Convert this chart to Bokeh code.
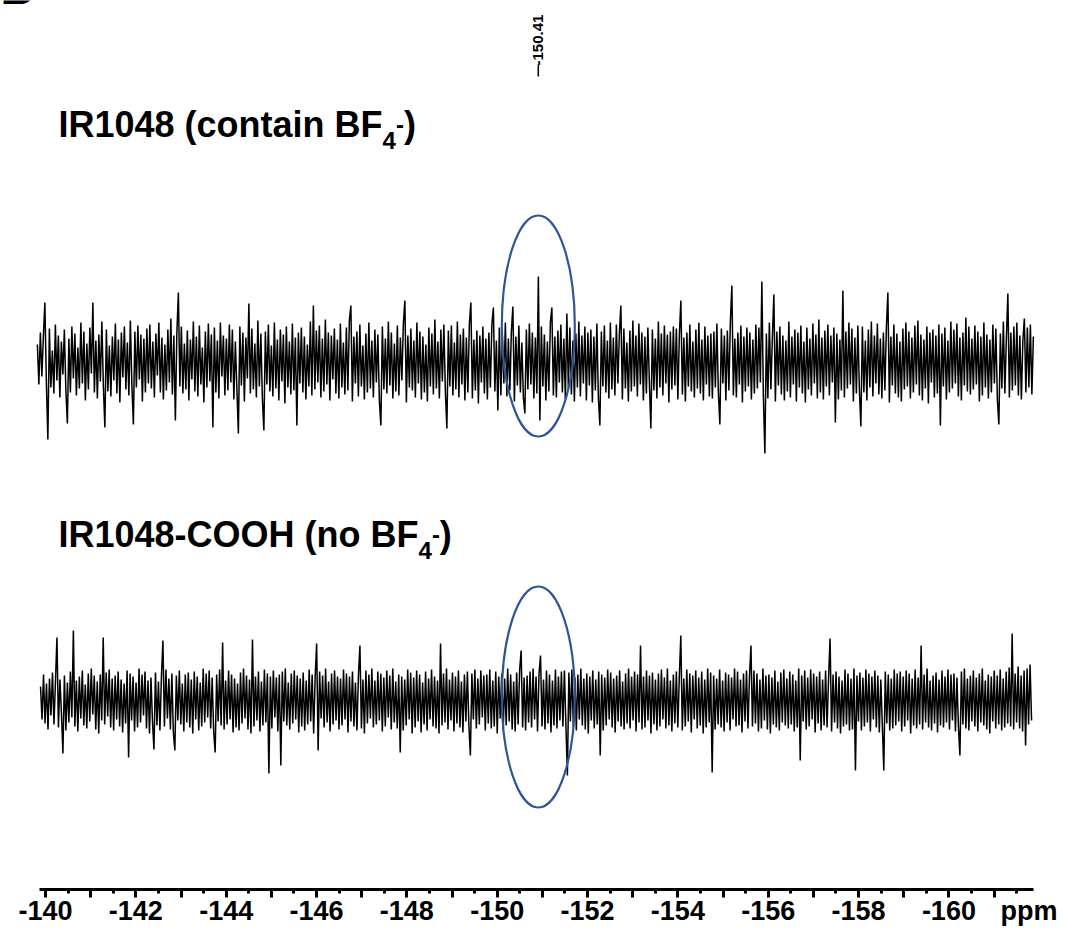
import numpy as np
from bokeh.plotting import figure
from bokeh.models import Range1d, FixedTicker, Title
from bokeh.core.properties import value
from bokeh.embed import file_html
from bokeh.resources import INLINE

# ---------------- data ----------------
tick_values = list(range(-140, -162, -1))            # major ticks every 1 ppm
minor_values = [v - 0.5 for v in tick_values]         # minor ticks at half ppm
tick_labels = ["-140", "-142", "-144", "-146", "-148", "-150",
               "-152", "-154", "-156", "-158", "-160"]
axis_label = "ppm"

peak_ppm = -150.91
peak_label = "-150.41"
panel_letter = "B"

title_top = ["IR1048 (contain BF", "4", "-", ")"]
title_bottom = ["IR1048-COOH (no BF", "4", "-", ")"]

top_ppm_window = (-139.82, -161.87)
bottom_ppm_window = (-139.89, -161.83)

top_intensity = [
    18, -22, 30, -14, 26, 60, -20, -77, 34, -25, 12, -31, 38, -18, 27, -35, 21, -12, 33, -28, -61, 24, -30, 36, -16,
    29, -33, 15, -26, 40, -21, 31, -38, 19, -27, 35, -11, 60, -30, 22, -36, 28, -19, 41, -24, -65, 33, -29, 17, -34,
    26, -18, 39, -31, 23, -40, 30, -15, 36, -27, 20, -33, 42, -22, -62, 31, -25, 37, -17, 28, -39, 24, -30, 34, -21,
    38, -26, 21, -35, 29, -13, 40, -30, 25, -37, 18, -28, 33, -20, 44, -32, 27, -58, 30, 70, -24, 36, -31, 19, -27,
    32, -38, 23, -17, 41, -29, 26, -34, 37, -22, 15, -40, 31, -25, 39, -19, 28, -65, 35, -30, 22, -36, 40, -14, 27,
    -33, 24, -28, 38, -20, 33, -37, 21, -26, -71, 36, -23, 30, -39, 25, -16, 59, -31, 34, -27, 19, -35, 42, -24, 29,
    -36, -68, 31, -22, 38, -29, 17, -34, 40, -26, 23, -38, 33, -19, 28, -41, 36, -25, 21, -32, 39, -28, 25, -63, 30,
    -21, 35, -30, 26, -37, 18, -24, 41, -33, 57, -27, 32, -20, 37, -35, 24, -29, 43, -22, 30, -38, 27, -17, 34, -31,
    23, -36, 39, -25, 20, -32, 35, -28, 42, 57, -39, 26, -21, 31, -34, 38, -24, 17, -37, 29, -30, 40, -26, 22, -35,
    33, -20, 28, -38, -63, 36, -27, 24, -31, 41, -23, 30, -36, 19, -29, 37, -33, 25, -18, 39, 62, -40, 27, -25, 34,
    -28, 22, -35, 40, -21, 31, -37, 26, -30, 18, -39, 35, -24, 29, -32, 43, -26, 21, -36, 33, -19, 38, -29, -66, 32,
    -24, 37, -33, 20, -27, 41, -35, 28, -22, 34, -38, 25, -30, 39, 60, -36, 23, -28, 32, -41, 27, -20, 36, -31, 24,
    -37, 30, -25, 38, 55, -29, 22, -48, 35, -33, 27, -21, 40, -34, 24, -28, 31, 56, -39, 26, -23, 37, -30, 20, -35,
    -51, 33, -27, 39, -22, 30, -36, 25, -31, 86, -58, 36, -24, 28, -38, 21, -29, 40, 55, -33, 26, -35, 32, -20, 38,
    -30, 24, -37, 49, -26, 35, -32, 22, -39, 29, -25, 41, -34, 27, -21, 36, -38, 30, -23, 33, -40, 26, -28, 39, -35,
    -63, 31, -24, 37, -30, 22, -36, 40, -27, 25, -33, 38, -21, 29, 57, -37, 34, -26, 20, -39, 32, -29, 42, -24, 27,
    -34, 39, -22, 30, -38, 26, -31, 35, -20, -66, 33, -28, 24, -36, 41, -25, 29, -33, 37, -21, 28, -40, 31, -27, 36,
    -23, 34, -37, 28, 62, -32, 25, -39, 30, -24, 38, -29, 21, -35, 33, -26, 40, -31, 23, -38, 36, -22, 27, -34, 29,
    -36, 31, -25, 39, -30, -62, 34, -21, 27, -38, 32, -28, 41, 77, -33, 24, -35, 30, -22, 37, -40, 26, -29, 35, -24,
    30, -37, 23, -31, 38, -26, 35, -20, 81, -34, -91, 29, -36, 40, -27, 25, 68, -39, 31, -23, 36, -32, 27, -38, 22,
    -29, 41, -35, 26, -22, 33, -39, 30, -25, 37, -31, 21, -40, 35, -27, 24, -33, 39, -21, 28, -36, 43, -30, 25, -37,
    32, -24, 38, -33, 27, -20, 35, -60, 29, -37, 23, -28, 72, -35, 31, -26, 40, -22, 34, -39, 25, -31, 37, -27, -64,
    36, -30, 22, -38, 33, -25, 41, -34, 27, -21, 39, -32, 24, -36, 30, -28, 35, 70, -40, 26, -23, 38, -31, 29, -35,
    21, -39, 34, -27, 40, -24, 31, -36, 25, -30, 37, -22, 42, -33, 28, -38, 23, -26, 36, -41, 30, -20, 33, -35, 27,
    -31, 38, -63, 29, -24, 35, -37, 22, -30, 41, -26, 33, -21, 39, -34, 25, -38, 30, -23, 45, -29, 36, -32, 24, -27,
    37, -22, 31, -39, 26, -33, 40, -25, 28, -36, 23, -30, 38, -21, 34, -37, -62, 29, -26, 41, -31, 24, 69, -35, 30,
    -28, 36, -23, 40, -33, 27, -37, 22, 44, -30, 35, -25, 38, -32, 26,
]

bottom_intensity = [
    14, -19, 26, -23, 17, -29, 22, -15, 28, -24, 19, 63, -27, 21, -12, -53, 25, -30, 18, -22, 29, -17, 70, -26, 20,
    -31, 24, -18, 30, -25, 16, -28, 27, -21, 32, -14, 25, -29, 19, -33, 26, -20, 63, -24, 28, -16, 31, -27, 22, -30,
    25, -19, 29, -26, 21, -32, 17, -23, 30, -57, 27, -20, 24, -31, 18, -27, 32, -22, 26, -15, 29, -28, 20, -33, 23,
    -21, -49, 28, -25, 19, -30, 24, 60, -26, 31, -18, 22, -29, 27, -32, -50, 25, -20, 30, -24, 17, -31, 26, -22, 28,
    -27, 21, -33, 29, -19, 24, -30, 18, -26, 32, -22, 27, -17, 30, -28, 23, -31, -52, 26, -21, 31, -25, 58, -29, 20,
    -24, 30, -19, 26, -32, 22, -27, 17, -30, 28, -23, 32, -18, 25, -29, 21, -33, 61, -26, 24, -20, 29, -31, 19, -25,
    31, -22, 27, -73, 24, -28, 30, -17, 23, -31, 26, -65, 29, -21, 32, -25, 18, -29, 27, -23, 30, -19, 25, -32, 22,
    -26, 28, -30, 20, -24, 31, -21, 26, -33, 23, 57, -50, 29, -18, 25, -27, 32, -22, 19, -31, 27, -24, 30, -20, 24,
    -29, 22, -25, 31, -19, 27, -32, 24, -21, 29, -26, 18, -30, 25, 55, -28, 21, -33, 30, -23, 26, -18, 32, -27, 20,
    -24, 29, -20, 27, -31, 23, -26, 30, -17, 25, -29, 32, -22, 19, -28, 26, -52, 24, -30, 21, -25, 31, -19, 28, -33,
    23, -27, 30, -21, 26, -32, 18, -24, 29, -30, 22, -19, 31, -26, 24, -28, 20, -33, 57, -25, 27, -22, 32, -29, 21,
    -20, 28, -31, 24, -23, 30, -27, 19, -32, 26, -21, 29, -25, -55, 27, -19, 31, -28, 22, -24, 30, -17, 25, -30, 26,
    -23, 31, -28, 20, -26, 29, -33, 24, -18, 27, -30, 22, -25, 32, -21, 26, -29, 19, -31, 28, -24, 30, 50, -27, 23,
    -30, 25, -22, 29, -27, 32, -19, 24, -31, 27, 45, -26, 21, -29, 30, -23, 26, -32, 20, -25, 31, -28, 24, -20, 29,
    -26, 30, -24, -75, 28, -21, 31, -27, 23, -30, 26, -19, 32, -25, 22, -29, 27, -33, 24, -20, 30, -28, 21, -24, 29,
    -55, 26, -30, 23, -25, 31, -19, 28, -27, 22, -32, 25, -21, 30, -26, 19, -29, 27, -23, 32, -28, 24, -20, 29, -31,
    26, -22, 55, -29, 24, -27, 30, -20, 25, -33, 28, -24, 21, -30, 27, -26, 31, -19, 23, -28, 32, -25, 20, -31, 26,
    -23, 29, -27, 24, 65, -30, 22, -26, 31, -21, 27, -32, 25, -19, 30, -28, 23, -25, 29, -33, 21, -27, 32, -22, 28,
    -72, 25, -29, 22, -24, 31, -27, 20, -31, 28, -22, 26, -30, 23, -19, 32, -26, 29, -25, 21, -32, 27, -21, 30, -28,
    24, 55, -26, 30, -23, 27, -31, 21, -28, 32, -20, 25, -29, 26, -33, 23, -24, 30, -27, 19, -30, 28, -22, 31, -25,
    22, -28, 29, -24, 26, -31, 20, -27, 32, -60, 25, -21, 30, -29, 23, -26, 31, -19, 27, -32, 24, -23, 29, -30, 21,
    -25, 30, -27, 23, 62, -31, 26, -22, 29, -28, 24, -33, 20, -26, 31, -24, 27, -30, 22, -29, 32, -70, 25, -21, 28,
    -30, 23, -26, 31, -22, 27, -31, 24, -19, 30, -27, 25, -32, 21, -24, -70, 29, -23, 26, -30, 22, -28, 31, -25, 27,
    -21, 29, -31, 24, -26, 30, -20, 27, -33, 22, -25, 31, -28, 23, -24, 55, -29, 26, -22, 32, -27, 20, -30, 25, -23,
    28, -32, 21, -25, 30, -27, 24, -22, 31, -29, 26, -20, 27, -31, 23, -26, -55, 29, -24, 32, -28, 22, -30, 25, -21,
    30, -26, 23, -31, 27, -22, 32, -25, 20, -29, 26, -33, 24, -21, 30, -28, 25, -24, 31, -30, 22, -27, 29, -23, 33,
    -26, 67, -29, 27, -22, 34, -28, 25, -31, 30, -45, 32, -24, 36, -20,
]

# ---------------- layout ----------------
W, H = 1065, 931
BOTTOM = 42
PXPP = 45.17            # pixels per ppm
X0_PAGE = 45.0          # screen x of -140 ppm
FONT = "Liberation Sans"
MID = 0.3465            # text anchor sits this many em above the drawn baseline


def px2ppm(px):
    return -140.0 - (px - X0_PAGE) / PXPP


def py(page_y):          # vertical layout helper (axis line at y = 889 px)
    return 889.0 - page_y


p = figure(width=W, height=H,
           x_range=Range1d(px2ppm(0), px2ppm(W)),
           y_range=Range1d(0, py(0)),
           output_backend="svg", toolbar_location=None,
           y_axis_location=None,
           min_border_left=0, min_border_right=0, min_border_top=0,
           min_border_bottom=BOTTOM, outline_line_color=None,
           background_fill_color="white", border_fill_color="white")
p.grid.visible = False

ax = p.xaxis[0]
ax.ticker = FixedTicker(ticks=tick_values, minor_ticks=minor_values)
overrides = {v: "" for v in tick_values}
for lab in tick_labels:
    overrides[int(lab)] = lab
ax.major_label_overrides = overrides
ax.bounds = (px2ppm(1033), px2ppm(39))
ax.axis_line_color = "black"
ax.axis_line_width = 3
ax.major_tick_line_color = "black"
ax.major_tick_line_width = 3
ax.major_tick_out = 8
ax.major_tick_in = 0
ax.minor_tick_line_color = "black"
ax.minor_tick_line_width = 3
ax.minor_tick_out = 4
ax.minor_tick_in = 0
ax.major_label_text_font = FONT
ax.major_label_text_font_style = "bold"
ax.major_label_text_font_size = "27px"
ax.major_label_text_color = "black"
ax.major_label_standoff = 3

# unit label at the right end of the tick-label row
unit = Title(text=axis_label, align="right", offset=8, standoff=-54,
             vertical_align="top", text_font=FONT, text_font_style="bold",
             text_font_size="27px", text_color="black")
p.add_layout(unit, "below")

# spectra
top_x = np.linspace(top_ppm_window[0], top_ppm_window[1], len(top_intensity))
bot_x = np.linspace(bottom_ppm_window[0], bottom_ppm_window[1], len(bottom_intensity))
TOP_OFF = py(362)
BOT_OFF = py(700)
p.line(top_x, np.array(top_intensity) + TOP_OFF, line_color="black", line_width=1.5)
p.line(bot_x, np.array(bottom_intensity) + BOT_OFF, line_color="black", line_width=1.5)

# highlight ellipses around the BF4- region
p.ellipse(x=[peak_ppm, peak_ppm], y=[py(325.5), py(696.5)],
          width=73 / PXPP, height=221,
          fill_color=None, line_color="#2F5597", line_width=2.2)

# peak label
p.segment(x0=[peak_ppm], y0=[py(76)], x1=[peak_ppm], y1=[py(64)],
          line_color="black", line_width=1.5)
p.text(x=[peak_ppm], y=[py(65)], text=[peak_label], angle=np.pi / 2,
       text_align="left", text_baseline="middle",
       text_font=value(FONT), text_font_style="bold",
       text_font_size="15px", text_color="black")

# cut-off panel letter at the very top (only its lower edge is visible)
p.text(x=[px2ppm(0)], y=[py(3)], text=[panel_letter], y_offset=-MID * 46,
       text_align="left", text_baseline="alphabetic",
       text_font=value(FONT), text_font_style="bold",
       text_font_size="46px", text_color="black")


def add_title(parts, x_page, base_page, main_w_em, S=36, s=24):
    xs = [x_page]
    xs.append(xs[-1] + main_w_em * S)
    xs.append(xs[-1] + 0.556 * s)
    xs.append(xs[-1] + 0.333 * s)
    bases = [base_page, base_page + 12, base_page - 4, base_page]
    sizes = [S, s, s, S]
    for t, xx, bb, ss in zip(parts, xs, bases, sizes):
        p.text(x=[px2ppm(xx)], y=[py(bb - MID * ss)], text=[t],
               text_align="left", text_baseline="alphabetic",
               text_font=value(FONT), text_font_style="bold",
               text_font_size=f"{ss}px", text_color="black")


add_title(title_top, 58, 136, 9.002)
add_title(title_bottom, 58, 546, 10.001)

open("out.html", "w").write(file_html(p, INLINE))
